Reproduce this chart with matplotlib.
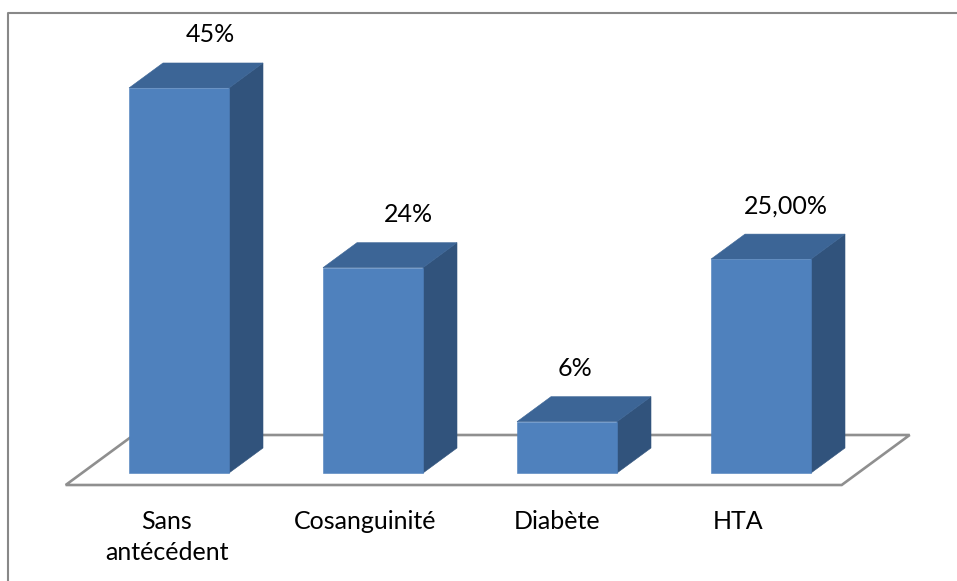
import matplotlib
matplotlib.use("Agg")
import matplotlib.pyplot as plt
from matplotlib.patches import Polygon
from matplotlib.lines import Line2D

# Data
categories = ["Sans\nantécédent", "Cosanguinité", "Diabète", "HTA"]
values = [45, 24, 6, 25]
value_labels = ["45%", "24%", "6%", "25,00%"]

# Styling
FRONT = "#4F81BD"
TOP = "#3C6596"
SIDE = "#31537C"
FLOOR_EDGE = "#8F8F8F"
plt.rcParams["font.family"] = ["Lato", "DejaVu Sans"]
FONT_SIZE = 18

W, H, DPI = 957, 581, 100
fig = plt.figure(figsize=(W / DPI, H / DPI), dpi=DPI)
ax = fig.add_axes([0, 0, 1, 1])
ax.set_axis_off()

# Axis scales: x in category slots, y in percent
PX_PER_CAT = 194.0
PX_PER_PCT = 8.556
X0_PX, Y0_PX = 179.0, 473.0       # front-bottom centre of the first bar
ax.set_xlim(-X0_PX / PX_PER_CAT, (W - X0_PX) / PX_PER_CAT)
ax.set_ylim(-(H - Y0_PX) / PX_PER_PCT, Y0_PX / PX_PER_PCT)


def px_x(p):
    return p / PX_PER_CAT


def px_y(p):
    return p / PX_PER_PCT


# Oblique depth vector of one bar and bar half-width
DX, DY = px_x(34), px_y(25)
HALF = px_x(50)

# Floor: spans the four category slots, twice as deep as a bar
d0, d1 = -0.48, 1.52
n = len(categories)
floor = [(-0.5 + d0 * DX, d0 * DY), (n - 0.5 + d0 * DX, d0 * DY),
         (n - 0.5 + d1 * DX, d1 * DY), (-0.5 + d1 * DX, d1 * DY)]
ax.add_patch(Polygon(floor, closed=True, facecolor="white",
                     edgecolor=FLOOR_EDGE, linewidth=1.9, joinstyle="miter", zorder=1))

# 3D columns
for i, v in enumerate(values):
    l, r = i - HALF, i + HALF
    front = [(l, 0), (r, 0), (r, v), (l, v)]
    top = [(l, v), (r, v), (r + DX, v + DY), (l + DX, v + DY)]
    side = [(r, 0), (r + DX, DY), (r + DX, v + DY), (r, v)]
    for pts, col in ((side, SIDE), (top, TOP), (front, FRONT)):
        ax.add_patch(Polygon(pts, closed=True, facecolor=col, edgecolor=col,
                             linewidth=0.4, zorder=3))

# Value labels above the columns
label_nudge_px = [31, 35, 8, 25]
for i, (v, txt) in enumerate(zip(values, value_labels)):
    ax.text(i + px_x(label_nudge_px[i]), v + DY + px_y(28), txt,
            ha="center", va="center", fontsize=FONT_SIZE, color="black", zorder=5)

# Category labels under the floor
cat_nudge_px = [-12, -8, -10, -23]
for i, c in enumerate(categories):
    ax.text(i + px_x(cat_nudge_px[i]), -px_y(37), c, ha="center", va="top",
            fontsize=FONT_SIZE, color="black", linespacing=1.42, zorder=5)

# Chart area border (top and left edges)
fig.add_artist(Line2D([8 / W, 8 / W, 1.0], [0.0, 1 - 13 / H, 1 - 13 / H],
                      transform=fig.transFigure, color="#888888", linewidth=1.5))

fig.savefig("out.png", dpi=DPI, facecolor="white")
